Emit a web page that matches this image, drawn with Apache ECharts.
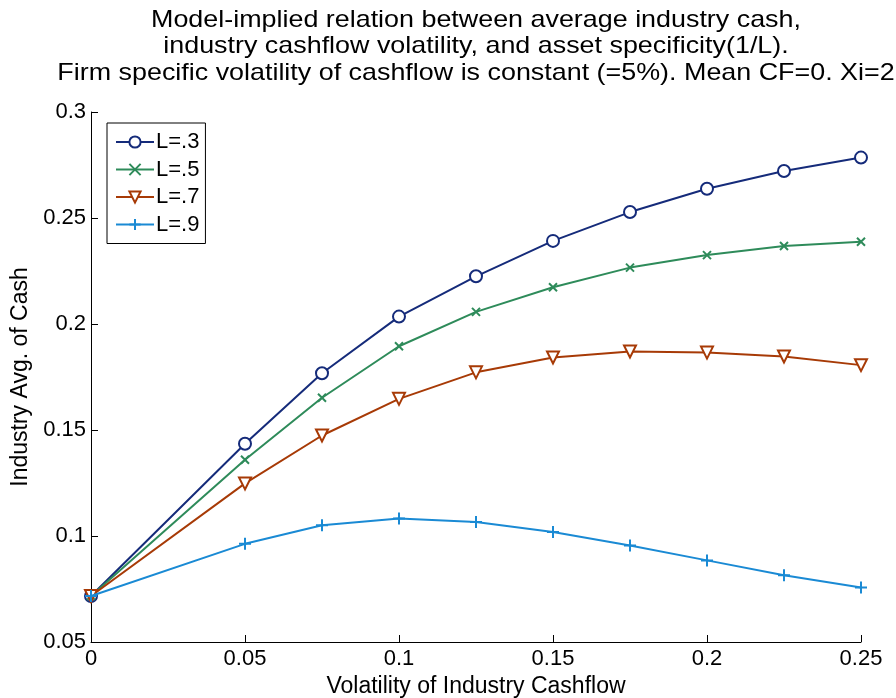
<!DOCTYPE html>
<html>
<head>
<meta charset="utf-8">
<script src="https://cdn.jsdelivr.net/npm/echarts@6/dist/echarts.min.js"></script>
<style>html,body{margin:0;padding:0;background:#fff}#c{width:896px;height:698px}</style>
</head>
<body>
<div id="c"></div>
<script>
const xValues = [0, 0.05, 0.075, 0.1, 0.125, 0.15, 0.175, 0.2, 0.225, 0.25];
const seriesNames = ['L=.3', 'L=.5', 'L=.7', 'L=.9'];
const L3 = [0.0717, 0.1435, 0.1768, 0.2035, 0.2225, 0.2392, 0.2528, 0.2638, 0.2722, 0.2785];
const L5 = [0.0717, 0.136, 0.1652, 0.1895, 0.2057, 0.2173, 0.2266, 0.2325, 0.2368, 0.2388];
const L7 = [0.0717, 0.1248, 0.1474, 0.1647, 0.1772, 0.1842, 0.1870, 0.1865, 0.1847, 0.1806];
const L9 = [0.0717, 0.0963, 0.1051, 0.1083, 0.1066, 0.1019, 0.0955, 0.0885, 0.0815, 0.0757];
const titleLines = [
  'Model-implied relation between average industry cash,',
  'industry cashflow volatility, and asset specificity(1/L).',
  'Firm specific volatility of cashflow is constant (=5%). Mean CF=0. Xi=2'
];
const xName = 'Volatility of Industry Cashflow';
const yName = 'Industry Avg. of Cash';

const colors = ['#152b7a', '#2e8b5a', '#a73a06', '#1a8ad4'];
const symbols = ['emptyCircle', 'path://M0,0L10,10M10,0L0,10', 'emptyTriangle', 'path://M5,0L5,10M0,5L10,5'];
const symbolSizes = [12, 8, 12, 12];
const rotates = [0, 0, 180, 0];
const dataSets = [L3, L5, L7, L9];

const FONT = 'Liberation Sans, Arial, sans-serif';

const chart = echarts.init(document.getElementById('c'), null, {renderer: 'canvas'});
chart.setOption({
  animation: false,
  backgroundColor: '#fff',
  textStyle: {fontFamily: FONT},
  graphic: [{
    type: 'text',
    x: 476, y: 7,
    scaleX: 1.12,
    style: {
      text: titleLines.join('\n'),
      fontSize: 24, lineHeight: 26.5,
      fontFamily: FONT,
      fill: '#000',
      align: 'center', verticalAlign: 'top'
    }
  }],
  grid: {left: 91, right: 35, top: 112, bottom: 56, containLabel: false, outerBoundsMode: 'none'},
  legend: {
    orient: 'vertical',
    left: 107, top: 123,
    padding: [8, 6, 8, 8],
    itemGap: 5.5,
    itemWidth: 38, itemHeight: 14,
    borderColor: '#000', borderWidth: 1,
    backgroundColor: '#fff',
    textStyle: {fontSize: 22, lineHeight: 22, color: '#000', fontFamily: FONT, padding: [0, 0, 0, -3]},
    data: seriesNames
  },
  xAxis: {
    type: 'value', min: 0, max: 0.25, interval: 0.05,
    name: xName, nameLocation: 'middle', nameGap: 20,
    nameTextStyle: {fontSize: 23, color: '#000', fontFamily: FONT},
    axisLine: {lineStyle: {color: '#000', width: 1}},
    axisTick: {inside: true, length: 7, lineStyle: {color: '#000'}},
    axisLabel: {fontSize: 22, color: '#000', margin: 6, fontFamily: FONT},
    splitLine: {show: false}
  },
  yAxis: {
    type: 'value', min: 0.05, max: 0.3, interval: 0.05,
    name: yName, nameLocation: 'middle', nameGap: 54, nameRotate: 90,
    nameTextStyle: {fontSize: 23, color: '#000', fontFamily: FONT},
    axisLine: {show: true, lineStyle: {color: '#000', width: 1}},
    axisTick: {show: true, inside: true, length: 7, lineStyle: {color: '#000'}},
    axisLabel: {fontSize: 22, color: '#000', margin: 5, fontFamily: FONT},
    splitLine: {show: false}
  },
  series: seriesNames.map((n, i) => ({
    name: n,
    type: 'line',
    data: xValues.map((x, j) => [x, dataSets[i][j]]),
    symbol: symbols[i],
    symbolSize: symbolSizes[i],
    symbolRotate: rotates[i],
    showAllSymbol: true,
    lineStyle: {color: colors[i], width: 2},
    itemStyle: {color: colors[i], borderColor: colors[i], borderWidth: 2},
    z: 2 + i
  }))
});
</script>
</body>
</html>
